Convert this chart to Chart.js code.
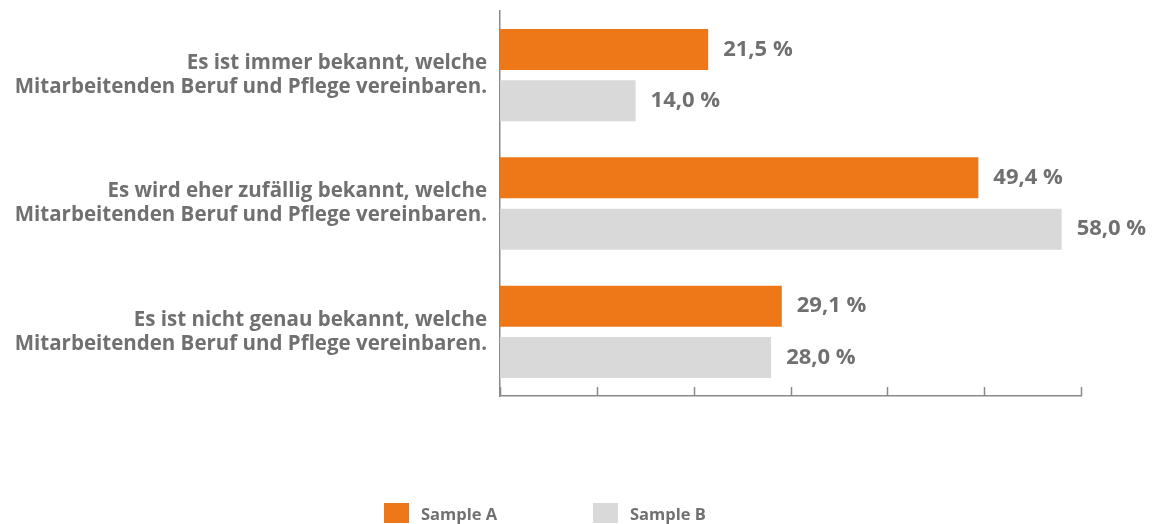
<!DOCTYPE html>
<html>
<head>
<meta charset="utf-8">
<script src="https://cdn.jsdelivr.net/npm/chart.js@4/dist/chart.umd.min.js"></script>
<style>
    body { margin: 0; background: #fff; }
    #wrap { position: relative; width: 1154px; height: 524px; }
    #legend { position: absolute; left: 384px; top: 503px; display: flex; font-family: 'Open Sans', sans-serif; font-weight: bold; font-size: 16.5px; color: #707070; }
    .item { width: 209px; display: flex; align-items: center; height: 20px; }
    .box { width: 25px; height: 20px; margin-right: 12px; }
</style>
</head>
<body>
<div id="wrap">
    <canvas id="chart" width="1154" height="524"></canvas>
    <div id="legend"></div>
</div>
<script>
const categories = [
    ['Es ist immer bekannt, welche', 'Mitarbeitenden Beruf und Pflege vereinbaren.'],
    ['Es wird eher zufällig bekannt, welche', 'Mitarbeitenden Beruf und Pflege vereinbaren.'],
    ['Es ist nicht genau bekannt, welche', 'Mitarbeitenden Beruf und Pflege vereinbaren.']
]
const seriesNames = ['Sample A', 'Sample B']
const sampleA = [21.5, 49.4, 29.1]
const sampleB = [14.0, 58.0, 28.0]
const colors = ['#EE7717', '#D9D9D9']

const textGray = '#707070'
const axisGray = '#8a8a8a'

// value labels to the right of each bar
const valueLabels = {
    id: 'valueLabels',
    afterDatasetsDraw(chart) {
        const ctx = chart.ctx
        ctx.save()
        ctx.font = "bold 22px 'Open Sans'"
        ctx.fillStyle = textGray
        ctx.textBaseline = 'middle'
        chart.data.datasets.forEach((ds, i) => {
            chart.getDatasetMeta(i).data.forEach((bar, j) => {
                const txt = ds.data[j].toFixed(1).replace('.', ',') + ' %'
                ctx.fillText(txt, bar.x + 15, bar.y)
            })
        })
        ctx.restore()
    }
}

// x axis tick marks pointing up into the plot
const upTicks = {
    id: 'upTicks',
    afterDraw(chart) {
        const x = chart.scales.x
        const ctx = chart.ctx
        ctx.save()
        ctx.strokeStyle = axisGray
        ctx.lineWidth = 1.5
        x.ticks.forEach(t => {
            const px = Math.round(x.getPixelForValue(t.value)) + 0.5
            ctx.beginPath()
            ctx.moveTo(px, x.top - 9)
            ctx.lineTo(px, x.top)
            ctx.stroke()
        })
        ctx.restore()
    }
}

new Chart(document.getElementById('chart'), {
    type: 'bar',
    data: {
        labels: categories,
        datasets: [
            { label: seriesNames[0], data: sampleA, backgroundColor: colors[0], barPercentage: 0.8, categoryPercentage: 0.8 },
            { label: seriesNames[1], data: sampleB, backgroundColor: colors[1], barPercentage: 0.8, categoryPercentage: 0.8 }
        ]
    },
    options: {
        indexAxis: 'y',
        responsive: false,
        animation: false,
        layout: { padding: { top: 11, right: 73, bottom: 128, left: 0 } },
        plugins: {
            legend: { display: false },
            tooltip: { enabled: false }
        },
        scales: {
            x: {
                min: 0,
                max: 60,
                ticks: { stepSize: 10, display: false },
                grid: { display: false, drawTicks: false },
                border: { color: axisGray, width: 1.5 },
                afterFit: s => { s.height = 0; s.paddingLeft = 0; s.paddingRight = 0 }
            },
            y: {
                grid: { display: false, drawTicks: false },
                border: { color: axisGray, width: 1.5 },
                ticks: {
                    padding: 13,
                    color: textGray,
                    font: { family: "'Open Sans'", size: 20.5, weight: 'bold', lineHeight: 1.17 }
                },
                afterFit: s => { s.width = 500; s.paddingTop = 0; s.paddingBottom = 0 }
            }
        }
    },
    plugins: [valueLabels, upTicks]
})

const legend = document.getElementById('legend')
seriesNames.forEach((name, i) => {
    const item = document.createElement('div')
    item.className = 'item'
    item.innerHTML = '<div class="box" style="background:' + colors[i] + '"></div><span>' + name + '</span>'
    legend.appendChild(item)
})
</script>
</body>
</html>
